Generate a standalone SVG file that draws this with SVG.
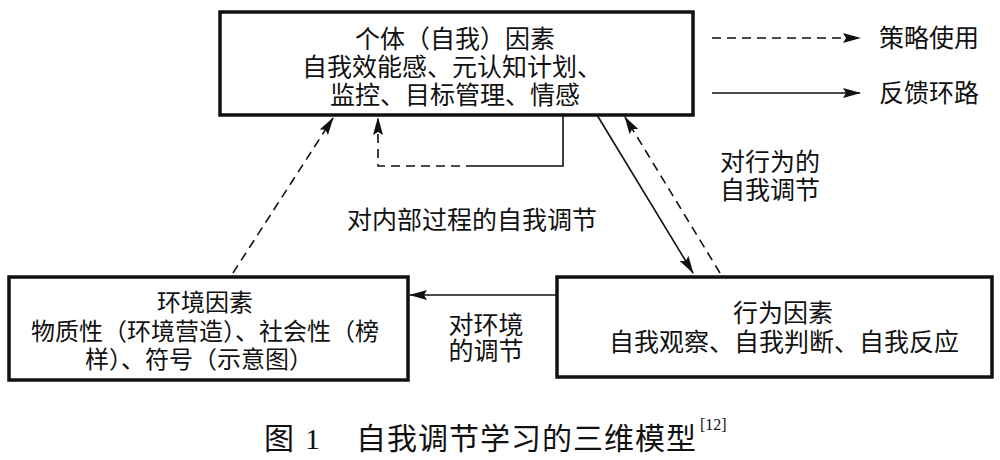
<svg xmlns="http://www.w3.org/2000/svg" width="1000" height="460" viewBox="0 0 1000 460">
<style>
.box{fill:#fff;stroke:#111;stroke-width:3.5}
.t{font-family:"Liberation Sans","Noto Sans CJK SC",sans-serif;fill:#111;text-anchor:middle}
.ln{fill:none;stroke:#111;stroke-width:1.6}
.dash{stroke-dasharray:9,6}
.cap{font-family:"Liberation Serif","Noto Sans CJK SC",serif;fill:#111}
</style>
<defs>
<marker id="ah" markerUnits="userSpaceOnUse" markerWidth="18" markerHeight="10" refX="17" refY="5" orient="auto">
<path d="M0,0 L18,5 L0,10 L3,5 z" fill="#111"/>
</marker>
</defs>
<rect width="1000" height="460" fill="#fff"/>
<g id="node-self">
<rect class="box" x="220" y="12" width="473" height="103"/>
<text class="t" x="455" y="48" font-size="25">个体（自我）因素</text>
<text class="t" x="452" y="76" font-size="25">自我效能感、元认知计划、</text>
<text class="t" x="455" y="104" font-size="25">监控、目标管理、情感</text>
</g>
<g id="node-env">
<rect class="box" x="9" y="277" width="399" height="103"/>
<text class="t" x="205" y="311" font-size="24">环境因素</text>
<text class="t" x="205" y="340" font-size="24">物质性（环境营造）、社会性（榜</text>
<text class="t" x="199" y="368" font-size="24">样）、符号（示意图）</text>
</g>
<g id="node-behavior">
<rect class="box" x="557" y="277" width="435" height="100"/>
<text class="t" x="783" y="322" font-size="25">行为因素</text>
<text class="t" x="784" y="351" font-size="25">自我观察、自我判断、自我反应</text>
</g>
<g id="connectors">
<path class="ln" d="M563,115 V166 H475"/>
<path class="ln dash" d="M475,166 H378 V118" marker-end="url(#ah)"/>
<path class="ln dash" d="M233,273 L333,118" marker-end="url(#ah)"/>
<path class="ln" d="M597,115 L693,273" marker-end="url(#ah)"/>
<path class="ln dash" d="M720,273 L625,117" marker-end="url(#ah)"/>
<path class="ln" d="M557,295 L410,295" marker-end="url(#ah)"/>
</g>
<g id="labels">
<text class="t" x="770" y="171" font-size="25">对行为的</text>
<text class="t" x="770" y="199" font-size="25">自我调节</text>
<text class="t" x="472" y="229" font-size="25">对内部过程的自我调节</text>
<text class="t" x="486" y="334" font-size="25">对环境</text>
<text class="t" x="486" y="360" font-size="25">的调节</text>
</g>
<g id="legend">
<path class="ln dash" d="M712,38 H860" marker-end="url(#ah)"/>
<text class="t" x="929" y="47" font-size="25">策略使用</text>
<path class="ln" d="M712,93 H860" marker-end="url(#ah)"/>
<text class="t" x="929" y="102" font-size="25">反馈环路</text>
</g>
<g id="caption">
<text class="cap" x="264" y="449" font-size="30">图</text>
<text class="cap" x="305" y="449" font-size="30">1</text>
<text class="cap" x="356" y="449" font-size="30" textLength="340" lengthAdjust="spacing">自我调节学习的三维模型</text>
<text class="cap" x="700" y="430" font-size="16">[12]</text>
</g>
</svg>
